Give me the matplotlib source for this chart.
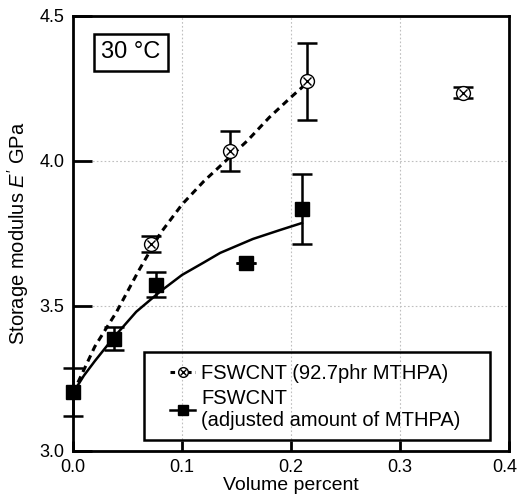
import matplotlib.pyplot as plt
from matplotlib.legend_handler import HandlerTuple
from matplotlib.patches import Rectangle
from matplotlib.transforms import ScaledTranslation

plt.rcParams["font.family"] = ["Liberation Sans", "DejaVu Sans"]
plt.rcParams["mathtext.fontset"] = "custom"
plt.rcParams["mathtext.rm"] = "Liberation Sans"
plt.rcParams["mathtext.it"] = "Liberation Sans:italic"

# FSWCNT, 92.7 phr MTHPA (open circle with cross)
fixed_x = [0.0716, 0.144, 0.2147, 0.358]
fixed_y = [3.714, 4.034, 4.274, 4.236]
fixed_err = [0.028, 0.068, 0.133, 0.02]

# FSWCNT, adjusted amount of MTHPA (filled square)
adj_x = [0.0, 0.0376, 0.076, 0.159, 0.21]
adj_y = [3.203, 3.387, 3.574, 3.648, 3.834]
adj_err = [0.083, 0.04, 0.042, 0.0, 0.12]

# fitted curves
fit_fixed_x = [0, 0.02, 0.04, 0.06, 0.08, 0.10, 0.12, 0.14, 0.16, 0.18, 0.20, 0.215]
fit_fixed_y = [3.20, 3.36, 3.48, 3.62, 3.75, 3.85, 3.93, 4.00, 4.07, 4.15, 4.22, 4.27]
fit_adj_x = [0, 0.01, 0.02, 0.037, 0.058, 0.08, 0.10, 0.12, 0.135, 0.165, 0.19, 0.21]
fit_adj_y = [3.20, 3.26, 3.31, 3.39, 3.48, 3.55, 3.607, 3.65, 3.683, 3.731, 3.762, 3.786]

x_ticks = [0.0, 0.1, 0.2, 0.3, 0.4]
y_ticks = [3.0, 3.5, 4.0, 4.5]

fig = plt.figure(figsize=(5.2, 4.98), dpi=100)
ax = fig.add_axes([0.1404, 0.0944, 0.8386, 0.8736])

ax.grid(True, color="0.75", linestyle=(0, (1.5, 2)), linewidth=0.8)
ax.set_axisbelow(True)

ax.plot(fit_fixed_x, fit_fixed_y, color="black", lw=2.2, ls=(0, (2.2, 1.6)))
ax.plot(fit_adj_x, fit_adj_y, color="black", lw=1.8)

for xs, ys, es in [(fixed_x, fixed_y, fixed_err), (adj_x, adj_y, adj_err)]:
    eb = ax.errorbar(xs, ys, yerr=es, fmt="none", ecolor="black",
                     elinewidth=1.8, capsize=7, capthick=1.8)
    for art in eb.lines[1] + eb.lines[2]:
        art.set_clip_on(False)

ax.plot(fixed_x, fixed_y, "o", ms=10, mfc="white", mec="black", mew=1.0, zorder=4)
ax.plot(fixed_x, fixed_y, "x", ms=6, mec="black", mew=1.0, zorder=5)
ax.plot(adj_x, adj_y, "s", ms=10, color="black", zorder=4, clip_on=False)

# legend: frame drawn separately, it is wider than the entries
h_dash = ax.plot([], [], color="black", lw=2.2, ls=(0, (1.5, 1.2)))[0]
h_circ = ax.plot([], [], "o", ms=7, mfc="white", mec="black", mew=1.0)[0]
h_x = ax.plot([], [], "x", ms=4.5, mec="black", mew=1.0)[0]
h_sq = ax.plot([], [], "s-", ms=7.5, color="black", lw=1.8)[0]

leg = ax.legend([(h_dash, h_circ, h_x), h_sq],
                ["FSWCNT (92.7phr MTHPA)", "FSWCNT\n(adjusted amount of MTHPA)"],
                handler_map={tuple: HandlerTuple(ndivide=1, pad=0)},
                loc="upper left", bbox_to_anchor=(0.2225, 0.199),
                borderaxespad=0, borderpad=0, fontsize=14.5, frameon=False,
                handlelength=1.25, handletextpad=0.3, labelspacing=0.3)
ax.add_patch(Rectangle((0.1628, 0.0253), 0.7936, 0.2023, transform=ax.transAxes,
                       fill=False, ec="black", lw=1.8, zorder=6))

ax.text(0.133, 0.916, "30 °C", transform=ax.transAxes, fontsize=17,
        ha="center", va="center",
        bbox=dict(boxstyle="square,pad=0.3", fc="white", ec="black", lw=1.8))

ax.set_xlim(0, 0.4)
ax.set_ylim(3.0, 4.5)
ax.set_xticks(x_ticks)
ax.set_yticks(y_ticks)
ax.set_xticklabels([f"{v:.1f}" for v in x_ticks])
ax.set_yticklabels([f"{v:.1f}" for v in y_ticks])
ax.tick_params(axis="x", direction="in", length=7, width=2, labelsize=13, pad=6)
ax.tick_params(axis="y", direction="in", length=14, width=2, labelsize=13, pad=6)
for s in ax.spines.values():
    s.set_linewidth(2)

# last x label sits against the right edge of the figure
last = ax.get_xticklabels()[-1]
last.set_transform(last.get_transform()
                   + ScaledTranslation(-3 / 72, 0, fig.dpi_scale_trans))

ax.set_xlabel("Volume percent", fontsize=14, labelpad=0.5)
ax.set_ylabel("Storage modulus $E'$ GPa", fontsize=14.5, labelpad=6)

fig.savefig("out.png", dpi=100)
